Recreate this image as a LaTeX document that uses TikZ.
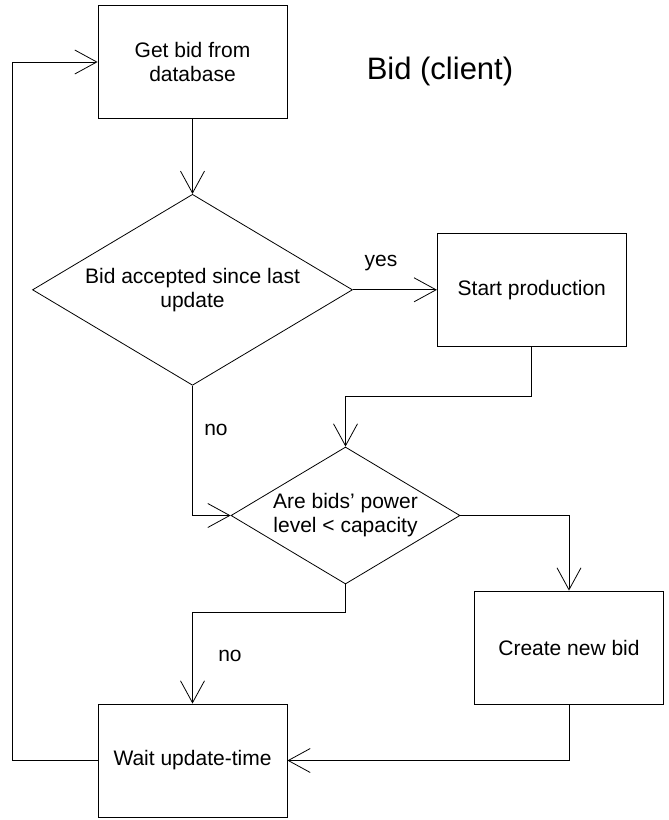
\documentclass[tikz,border=0pt]{standalone}
\usepackage{fontspec}
\setmainfont{Liberation Sans}
\usepackage{tikz}
\usetikzlibrary{arrows.meta,positioning,shapes.geometric,calc}
\newcommand{\txt}{\fontsize{21}{24}\selectfont}

\begin{document}
\begin{tikzpicture}[
    x=1pt, y=-1pt, line width=0.8pt,
    box/.style={draw, align=center, inner sep=0pt, font=\txt,
                minimum width=189pt, minimum height=113pt},
    dec/.style={draw, diamond, aspect=1.67, align=center, inner sep=0pt, font=\txt},
    lbl/.style={inner sep=0pt, font=\txt},
    ar/.style={-{Straight Barb[length=22pt,width=24pt]}}
  ]
  \useasboundingbox (0,0) rectangle (669,820);

  \node[box] (getbid) at (192.5,62) {Get bid from\\database};
  \node[font=\fontsize{31}{36}\selectfont, inner sep=0pt] (title) at (440,71) {Bid (client)};

  \node[dec, minimum width=320pt, minimum height=191pt, below=75pt of getbid] (accepted) {Bid accepted since last\\update};
  \node[box, right=84pt of accepted] (start) {Start production};

  \node[dec, minimum width=229pt, minimum height=137pt] (capacity) at (345.5,515.5) {Are bids’ power\\level < capacity};
  \node[box] (create) at (569,647.5) {Create new bid};
  \node[box] (wait) at (192.5,760.5) {Wait update-time};

  \node[lbl] (yes) at (381,263) {yes};
  \node[lbl] (no1) at (216,430) {no};
  \node[lbl] (no2) at (230,656) {no};

  \draw[ar] (getbid) -- (accepted);
  \draw[ar] (accepted.east) -- (accepted.east -| start.west);
  \draw[ar] (start.south) -- ++(0,50) -| (capacity.north);
  \draw[ar] (accepted.south) |- (capacity.west);
  \draw[ar] (capacity.east) -| (create.north);
  \draw[ar] (capacity.south) -- ++(0,28) -| (wait.north);
  \draw[ar] (create.south) |- (wait.east);
  \draw[ar] (wait.west) -- ++(-85,0) |- (getbid.west);
\end{tikzpicture}
\end{document}
